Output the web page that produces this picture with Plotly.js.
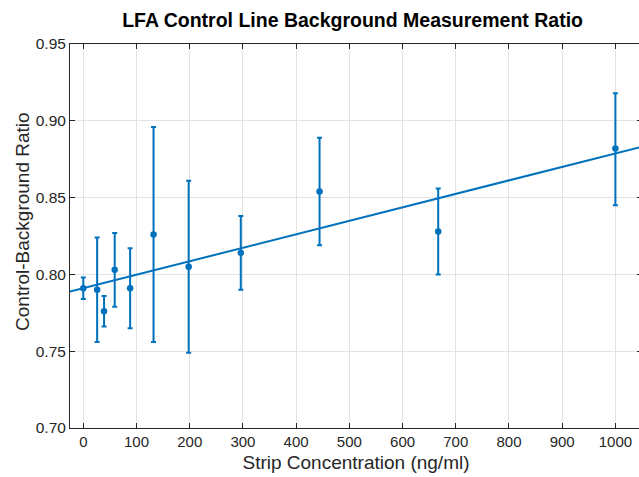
<!DOCTYPE html>
<html>
<head>
<meta charset="utf-8">
<script src="https://cdn.plot.ly/plotly-3.0.1.min.js"></script>
<style>
  html, body { margin: 0; padding: 0; overflow: hidden; background: #fff; width: 639px; height: 477px; }
  #chart { width: 642px; height: 477px; }
</style>
</head>
<body>
<div id="chart"></div>
<script>
// Data
const concentrations = [0, 26, 39, 59, 88, 132, 198, 296, 444, 667, 1000];
const ratioMean  = [0.791, 0.790, 0.776, 0.803, 0.791, 0.826, 0.805, 0.814, 0.854, 0.828, 0.882];
const ratioUpper = [0.798, 0.824, 0.786, 0.827, 0.817, 0.896, 0.861, 0.838, 0.889, 0.856, 0.918];
const ratioLower = [0.784, 0.756, 0.766, 0.779, 0.765, 0.756, 0.749, 0.790, 0.819, 0.800, 0.845];
const xTicks = [0, 100, 200, 300, 400, 500, 600, 700, 800, 900, 1000];
const yTicks = [0.70, 0.75, 0.80, 0.85, 0.90, 0.95];
const xRange = [-25, 1050];
const yRange = [0.70, 0.95];

const blue = '#0072BD';
const axisColor = '#262626';
const fontFamily = '"Liberation Sans", Arial, Helvetica, sans-serif';

// Least-squares linear fit of the data
const n = concentrations.length;
const mx = concentrations.reduce((a, b) => a + b, 0) / n;
const my = ratioMean.reduce((a, b) => a + b, 0) / n;
let sxy = 0, sxx = 0;
for (let i = 0; i < n; i++) {
  sxy += (concentrations[i] - mx) * (ratioMean[i] - my);
  sxx += (concentrations[i] - mx) * (concentrations[i] - mx);
}
const slope = sxy / sxx;
const intercept = my - slope * mx;
const fitX = [xRange[0], xRange[1]];
const fitY = fitX.map(x => intercept + slope * x);

const errPlus = ratioUpper.map((u, i) => u - ratioMean[i]);
const errMinus = ratioLower.map((l, i) => ratioMean[i] - l);

const traces = [
  {
    x: fitX, y: fitY, type: 'scatter', mode: 'lines',
    line: { color: blue, width: 2 }, hoverinfo: 'skip', showlegend: false
  },
  {
    x: concentrations, y: ratioMean, type: 'scatter', mode: 'markers',
    marker: { color: blue, size: 6.5 },
    error_y: { type: 'data', symmetric: false, array: errPlus, arrayminus: errMinus,
               color: blue, thickness: 2, width: 2.5 },
    showlegend: false
  }
];

const layout = {
  width: 642, height: 477,
  margin: { l: 70, r: 0, t: 44, b: 49 },
  paper_bgcolor: '#fff', plot_bgcolor: '#fff',
  font: { family: fontFamily, color: axisColor, size: 15 },
  title: {
    text: '<b>LFA Control Line Background Measurement Ratio</b>',
    font: { family: fontFamily, size: 19.5, color: '#000' },
    x: 0.494, xref: 'paper', xanchor: 'center', y: 0.958, yref: 'container', yanchor: 'middle'
  },
  xaxis: {
    range: xRange, tickvals: xTicks, ticktext: xTicks.map(String),
    ticks: 'inside', ticklen: 5, tickwidth: 1, tickcolor: axisColor,
    showline: true, linecolor: axisColor, linewidth: 1, mirror: 'ticks',
    showgrid: true, gridcolor: '#e3e3e3', gridwidth: 1, zeroline: false,
    tickfont: { size: 15, color: axisColor },
    title: { text: 'Strip Concentration (ng/ml)', font: { size: 19, color: axisColor }, standoff: 6 }
  },
  yaxis: {
    range: yRange, tickvals: yTicks, ticktext: yTicks.map(v => v.toFixed(2)),
    ticks: 'inside', ticklen: 5, tickwidth: 1, tickcolor: axisColor,
    showline: true, linecolor: axisColor, linewidth: 1, mirror: 'ticks',
    showgrid: true, gridcolor: '#e3e3e3', gridwidth: 1, zeroline: false,
    tickfont: { size: 15.5, color: axisColor }
  },
  annotations: [{
    text: 'Control-Background Ratio', textangle: -90, showarrow: false,
    xref: 'paper', yref: 'paper', x: -0.084, y: 0.539, xanchor: 'center', yanchor: 'middle',
    font: { family: fontFamily, size: 19, color: axisColor }
  }]
};

Plotly.newPlot('chart', traces, layout, { displayModeBar: false, staticPlot: true });
</script>
</body>
</html>
